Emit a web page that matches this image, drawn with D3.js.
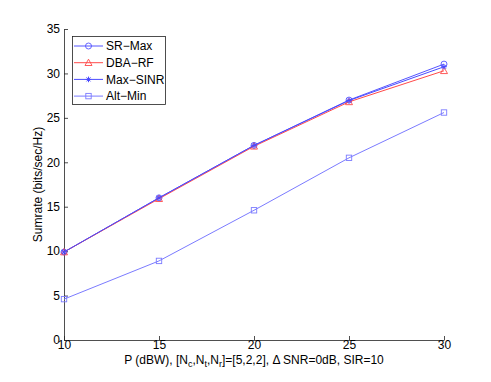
<!DOCTYPE html>
<html>
<head>
<meta charset="utf-8">
<script src="https://cdn.jsdelivr.net/npm/d3@7"></script>
<style>
  body { margin: 0; background: #fff; }
  text { font-family: "Liberation Sans", Arial, sans-serif; }
</style>
</head>
<body>
<div id="chart"></div>
<script>
// data
const powers = [10, 15, 20, 25, 30];
const srMax = [9.9, 16.0, 21.9, 27.0, 31.05];
const dbaRf = [9.9, 15.9, 21.8, 26.8, 30.3];
const maxSinr = [9.9, 16.0, 21.9, 26.95, 30.75];
const altMin = [4.6, 8.9, 14.6, 20.5, 25.6];
const seriesNames = ["SR\u2212Max", "DBA\u2212RF", "Max\u2212SINR", "Alt\u2212Min"];
const xTicks = [10, 15, 20, 25, 30];
const yTicks = [0, 5, 10, 15, 20, 25, 30, 35];

const W = 491, H = 382;
const margin = { top: 29, right: 47, bottom: 42, left: 64 };

const svg = d3.select("#chart").append("svg")
    .attr("width", W).attr("height", H);

const x = d3.scaleLinear().domain([10, 30]).range([margin.left, W - margin.right]);
const y = d3.scaleLinear().domain([0, 35]).range([H - margin.bottom, margin.top]);

const series = [
    { name: seriesNames[0], vals: srMax, color: "#5555ff", marker: "circle" },
    { name: seriesNames[1], vals: dbaRf, color: "#ff4a4a", marker: "triangle" },
    { name: seriesNames[2], vals: maxSinr, color: "#4a4aff", marker: "star" },
    { name: seriesNames[3], vals: altMin, color: "#7b7bff", marker: "square" }
];

function drawMarker(g, type, cx, cy, color) {
    if (type === "circle") {
        g.append("circle").attr("cx", cx).attr("cy", cy).attr("r", 3)
            .attr("fill", "none").attr("stroke", color).attr("stroke-width", 0.9);
    } else if (type === "triangle") {
        g.append("path")
            .attr("d", `M${cx},${cy - 3.5}L${cx + 3.5},${cy + 2.8}L${cx - 3.5},${cy + 2.8}Z`)
            .attr("fill", "none").attr("stroke", color).attr("stroke-width", 0.9);
    } else if (type === "star") {
        const r = 2.8;
        let d = "";
        for (let k = 0; k < 4; k++) {
            const a = k * Math.PI / 4;
            d += `M${cx - r * Math.cos(a)},${cy - r * Math.sin(a)}L${cx + r * Math.cos(a)},${cy + r * Math.sin(a)}`;
        }
        g.append("path").attr("d", d).attr("stroke", color).attr("stroke-width", 1);
    } else if (type === "square") {
        g.append("rect").attr("x", cx - 2.7).attr("y", cy - 2.7)
            .attr("width", 5.4).attr("height", 5.4)
            .attr("fill", "none").attr("stroke", color).attr("stroke-width", 0.9);
    }
}

// axes (left + bottom only, ticks inward)
const xAxis = d3.axisBottom(x).tickValues(xTicks).tickSize(-4).tickPadding(3).tickSizeOuter(0);
const yAxis = d3.axisLeft(y).tickValues(yTicks).tickSize(-4).tickPadding(7).tickSizeOuter(0);

const gx = svg.append("g")
    .attr("transform", `translate(0,${H - margin.bottom})`)
    .call(xAxis);
const gy = svg.append("g")
    .attr("transform", `translate(${margin.left},0)`)
    .call(yAxis);

[gx, gy].forEach(g => {
    g.select(".domain").attr("stroke", "#222").attr("stroke-width", 0.8);
    g.selectAll(".tick line").attr("stroke", "#222").attr("stroke-width", 0.8);
    g.selectAll(".tick text").attr("font-size", 12)
        .attr("font-family", "Liberation Sans, Arial, sans-serif").attr("fill", "#000");
});
gx.selectAll(".tick text").attr("dy", "0.5em");
gy.selectAll(".tick text").attr("dx", "3");

// lines + markers
const line = d3.line().x((d, i) => x(powers[i])).y(d => y(d));
series.forEach(s => {
    svg.append("path").datum(s.vals)
        .attr("d", line)
        .attr("fill", "none")
        .attr("stroke", s.color)
        .attr("stroke-width", 1);
    const g = svg.append("g");
    s.vals.forEach((v, i) => drawMarker(g, s.marker, x(powers[i]), y(v), s.color));
});

// legend
const lg = svg.append("g");
lg.append("rect").attr("x", 72.5).attr("y", 36.5).attr("width", 93).attr("height", 68)
    .attr("fill", "#fff").attr("stroke", "#222").attr("stroke-width", 0.8);
series.forEach((s, i) => {
    const ly = 46 + i * 16.7;
    lg.append("line").attr("x1", 74).attr("x2", 103).attr("y1", ly).attr("y2", ly)
        .attr("stroke", s.color).attr("stroke-width", 1);
    drawMarker(lg, s.marker, 88.5, ly, s.color);
    lg.append("text").attr("x", 106).attr("y", ly).attr("dy", "0.35em")
        .attr("font-size", 12).text(s.name);
});

// axis labels
svg.append("text")
    .attr("transform", `translate(42,${(margin.top + H - margin.bottom) / 2}) rotate(-90)`)
    .attr("text-anchor", "middle").attr("font-size", 12)
    .text("Sumrate (bits/sec/Hz)");

const xl = svg.append("text")
    .attr("x", (margin.left + W - margin.right) / 2).attr("y", 364)
    .attr("text-anchor", "middle").attr("font-size", 12);
xl.append("tspan").text("P (dBW), [N");
xl.append("tspan").attr("font-size", 9).attr("dy", 3).text("c");
xl.append("tspan").attr("dy", -3).text(",N");
xl.append("tspan").attr("font-size", 9).attr("dy", 3).text("t");
xl.append("tspan").attr("dy", -3).text(",N");
xl.append("tspan").attr("font-size", 9).attr("dy", 3).text("r");
xl.append("tspan").attr("dy", -3).text("]=[5,2,2], \u0394 SNR=0dB, SIR=10");
</script>
</body>
</html>
